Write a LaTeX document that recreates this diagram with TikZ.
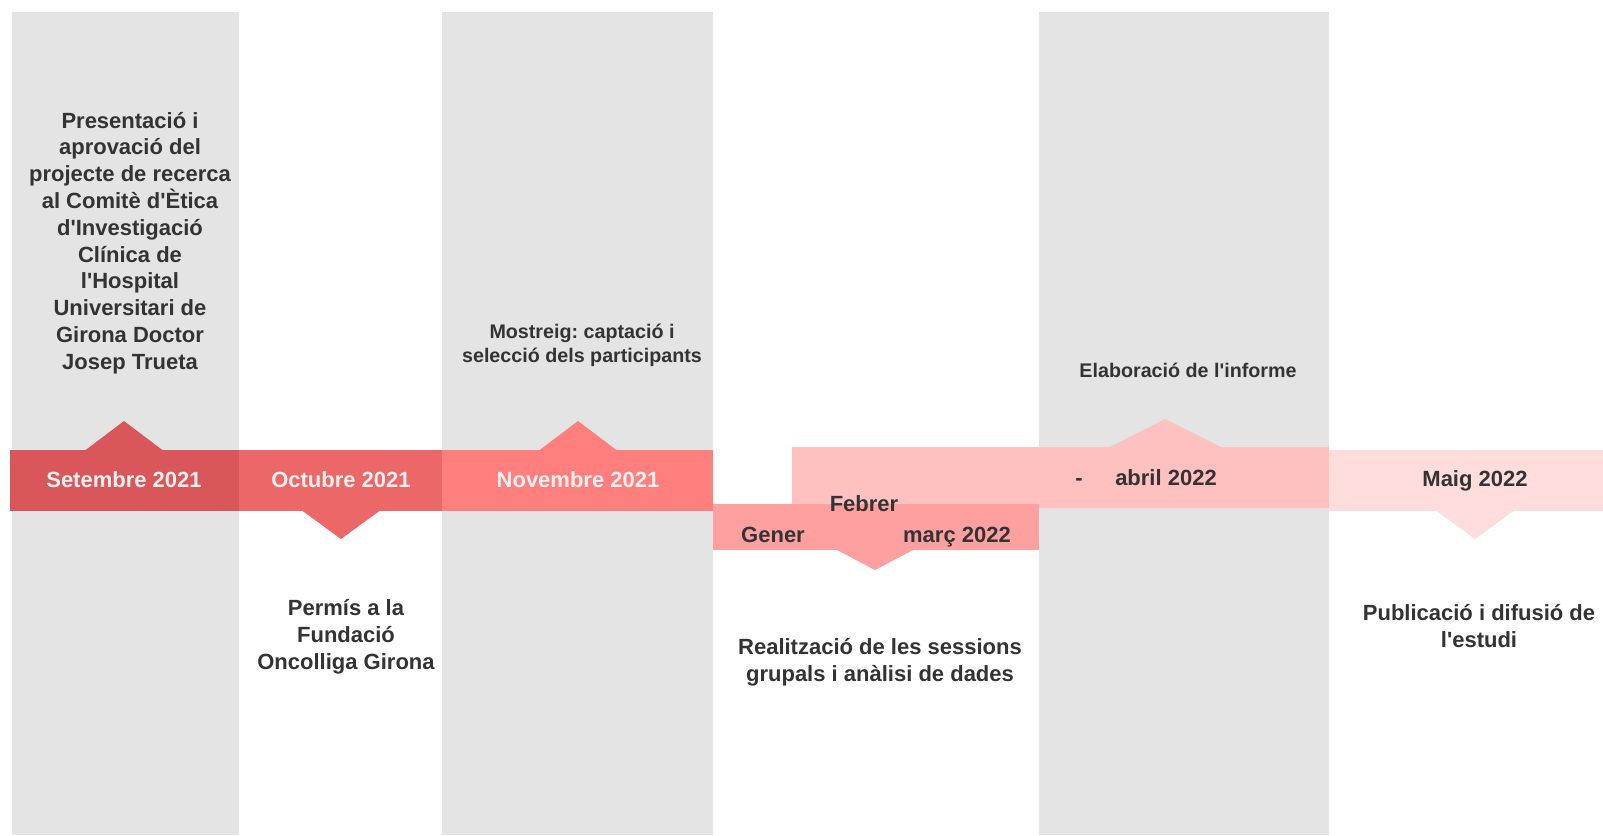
\documentclass[tikz,border=0pt]{standalone}
\usepackage{fontspec}
\setmainfont{Liberation Sans}[Ligatures=TeXOff]
\definecolor{colgray}{HTML}{E4E4E4}
\definecolor{cSet}{HTML}{D9575A}
\definecolor{cOct}{HTML}{EB6768}
\definecolor{cNov}{HTML}{FF7F7F}
\definecolor{cGen}{HTML}{FFA0A0}
\definecolor{cFeb}{HTML}{FFC0C0}
\definecolor{cMai}{HTML}{FFDDDD}
\definecolor{txtdark}{HTML}{333333}
\definecolor{txtlight}{HTML}{FDF0EF}
\frenchspacing
\tikzset{
  big/.style={font=\bfseries\fontsize{22}{26.8}\selectfont, align=center, inner sep=0pt},
  small/.style={font=\bfseries\fontsize{19.7}{24}\selectfont, align=center, inner sep=0pt},
  desc/.style={big, text=txtdark},
  descs/.style={small, text=txtdark},
  barlab/.style={big, text=txtlight},
  barlabd/.style={big, text=txtdark},
}
\begin{document}
\begin{tikzpicture}[x=1pt,y=-1pt]
\useasboundingbox (0,0) rectangle (1603,835);
\fill[white] (0,0) rectangle (1603,835);
% gray columns
\fill[colgray] (12,12) rectangle (239,835);
\fill[colgray] (442,12) rectangle (713,835);
\fill[colgray] (1039,12) rectangle (1329,835);
% Setembre
\fill[cSet] (10,450) rectangle (239,511);
\fill[cSet] (85,450.5) -- (124,421) -- (163,450.5) -- cycle;
% Octubre
\fill[cOct] (239,450) rectangle (442,511);
\fill[cOct] (302,510.5) -- (341,539) -- (380,510.5) -- cycle;
% Novembre
\fill[cNov] (442,450) rectangle (713,511);
\fill[cNov] (539,450.5) -- (578,421) -- (617,450.5) -- cycle;
% Febrer - abril
\fill[cFeb] (792,447) rectangle (1329,508);
\fill[cFeb] (1109,447.5) -- (1165,419) -- (1222,447.5) -- cycle;
% Maig
\fill[cMai] (1329,450) rectangle (1603,511);
\fill[cMai] (1436,510.5) -- (1475,539) -- (1514,510.5) -- cycle;
% Gener - marc
\fill[cGen] (713,504) rectangle (1039,550);
\fill[cGen] (836,549.5) -- (875,570) -- (914,549.5) -- cycle;
% bar labels
\node[barlab] (set) at (124,480) {Setembre 2021};
\node[barlab] (oct) at (341,480) {Octubre 2021};
\node[barlab] (nov) at (578,480) {Novembre 2021};
\node[barlabd] (gen) at (773,535) {Gener};
\node[barlabd] (feb) at (864,504) {Febrer};
\node[barlabd] (mar) at (957,537) {març 2022};
\node[barlabd] (dash) at (1079,482) {-};
\node[barlabd] (abr) at (1166,478) {abril 2022};
\node[barlabd] (mai) at (1475,481) {Maig 2022};
% descriptions
\node[desc] (dset) at (130,243) {Presentació i\\aprovació del\\projecte de recerca\\al Comitè d'Ètica\\d'Investigació\\Clínica de\\l'Hospital\\Universitari de\\Girona Doctor\\Josep Trueta};
\node[descs] (dnov) at (582,345) {Mostreig: captació i\\selecció dels participants};
\node[descs] (dabr) at (1188,370) {Elaboració de l'informe};
\node[desc] (doct) at (346,637) {Permís a la\\Fundació\\Oncolliga Girona};
\node[desc] (dgen) at (880,662) {Realització de les sessions\\grupals i anàlisi de dades};
\node[desc] (dmai) at (1479,626) {Publicació i difusió de\\l'estudi};
\end{tikzpicture}
\end{document}
